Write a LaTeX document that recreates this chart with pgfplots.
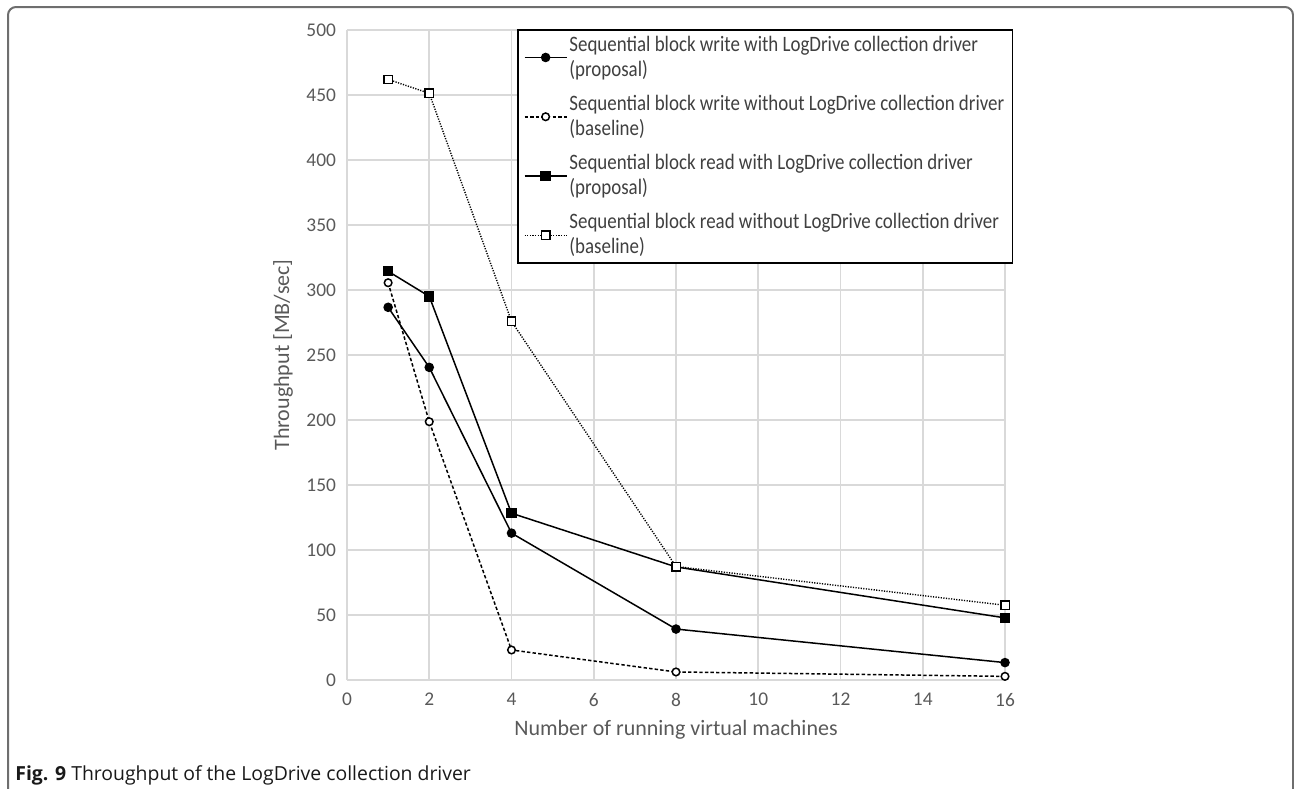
\documentclass[border=0pt]{standalone}
\usepackage{fontspec}
\setmainfont{Carlito}
\newfontfamily\legfont{Carlito}[FakeStretch=0.86]
\newfontfamily\capfont{Open Sans}
\usepackage{pgfplots}
\pgfplotsset{compat=1.18}
\definecolor{txt}{HTML}{595959}
\definecolor{legtxt}{HTML}{404040}
\definecolor{gridc}{HTML}{D9D9D9}
\definecolor{framec}{HTML}{6E6E6E}
\begin{document}
\begin{tikzpicture}[x=0.5pt,y=-0.5pt]
\useasboundingbox (0,0) rectangle (1294,788);
\draw[framec, line width=1pt, rounded corners=4pt] (8,790) -- (8,7) -- (1293,7) -- (1293,790);
\begin{axis}[
  at={(173.5pt,-340pt)}, anchor=south west,
  scale only axis, width=329pt, height=325pt,
  xmin=0, xmax=16, ymin=0, ymax=500,
  xtick={0,2,...,16}, ytick={0,50,...,500},
  grid=major, major grid style={gridc, line width=0.8pt},
  axis line style={draw=none},
  major tick length=0pt,
  /pgf/number format/assume math mode=true,
  tick label style={font=\fontsize{9.7}{11}\selectfont, text=txt},
  xticklabel style={yshift=-3pt},
  yticklabel style={xshift=-2pt},
  xlabel={Number of running virtual machines},
  ylabel={Throughput [MB/sec]},
  label style={font=\fontsize{11}{13}\selectfont, text=txt},
  xlabel style={at={(axis description cs:0.5,-0.0769)}, anchor=center},
  ylabel style={at={(axis description cs:-0.0973,0.5)}, anchor=center},
  legend style={at={(axis description cs:0.2584,1.0015)}, anchor=north west,
    draw=black, line width=0.8pt, fill=white,
    font=\legfont\fontsize{11}{12.5}\selectfont, text=legtxt,
    cells={align=left}, row sep=4pt, inner xsep=3pt, inner ysep=1pt,
    nodes={inner xsep=1pt}},
  legend cell align=left,
  legend image code/.code={\draw[mark repeat=2,mark phase=2] plot coordinates {(0cm,0cm)(0.37cm,0cm)(0.74cm,0cm)};},
]
\addplot[black, line width=0.75pt, mark=*, mark size=2pt, mark options={solid}]
  coordinates {(1,286.7) (2,240.5) (4,113) (8,39.2) (16,13.4)};
\addlegendentry{Sequential block write with LogDrive collection driver\\(proposal)}
\addplot[black, line width=0.75pt, dash pattern=on 1.7pt off 1.1pt, mark=*, mark size=1.9pt, mark options={solid, fill=white}]
  coordinates {(1,305.6) (2,198.7) (4,23.1) (8,6.2) (16,2.8)};
\addlegendentry{Sequential block write without LogDrive collection driver\\(baseline)}
\addplot[black, line width=0.75pt, mark=square*, mark size=2.2pt, mark options={solid}]
  coordinates {(1,314.4) (2,295.1) (4,128.3) (8,87) (16,47.8)};
\addlegendentry{Sequential block read with LogDrive collection driver\\(proposal)}
\addplot[black, line width=0.7pt, dash pattern=on 0.6pt off 0.7pt, mark=square*, mark size=2.1pt, mark options={solid, fill=white}]
  coordinates {(1,462) (2,451.3) (4,275.9) (8,87.3) (16,57.5)};
\addlegendentry{Sequential block read without LogDrive collection driver\\(baseline)}
\end{axis}
\node[anchor=base west, inner sep=0pt, text={black!90}, font=\capfont\fontsize{9.7}{11}\selectfont] at (15,780) {\textbf{Fig. 9} Throughput of the LogDrive collection driver};
\end{tikzpicture}
\end{document}
